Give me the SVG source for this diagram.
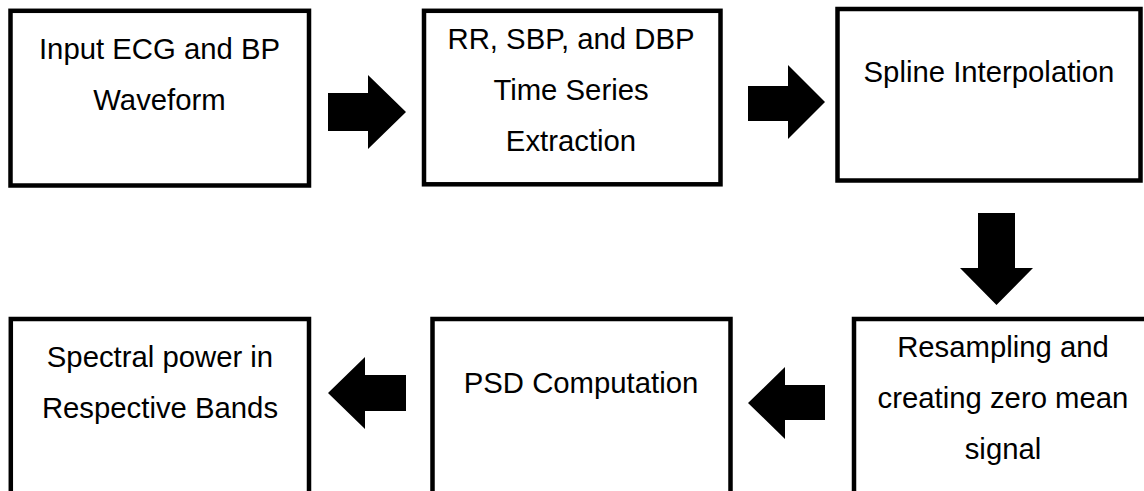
<svg xmlns="http://www.w3.org/2000/svg" width="1144" height="491" viewBox="0 0 1144 491">
<style>
.box{fill:#fff;stroke:#000;stroke-width:4.5}
.t{font-family:"Liberation Sans",Arial,sans-serif;font-size:29.3px;fill:#000;text-anchor:middle}
.arr{fill:#000;stroke:none}
</style>
<rect width="1144" height="491" fill="#fff"/>
<g id="node-input">
<rect class="box" x="10.5" y="10.8" width="298.5" height="174.7"/>
<text class="t" x="159.5" y="58.5">Input ECG and BP</text>
<text class="t" x="159.5" y="110">Waveform</text>
</g>
<g id="node-extraction">
<rect class="box" x="424" y="10.8" width="296.5" height="173.5"/>
<text class="t" x="571" y="48.5">RR, SBP, and DBP</text>
<text class="t" x="571" y="100">Time Series</text>
<text class="t" x="571" y="150.5">Extraction</text>
</g>
<g id="node-spline">
<rect class="box" x="837.5" y="9" width="303" height="171.5"/>
<text class="t" x="989" y="81.7">Spline Interpolation</text>
</g>
<g id="node-resampling">
<rect class="box" x="854" y="319" width="298" height="176"/>
<text class="t" x="1003" y="356.7">Resampling and</text>
<text class="t" x="1003" y="408.3">creating zero mean</text>
<text class="t" x="1003" y="458.5">signal</text>
</g>
<g id="node-psd">
<rect class="box" x="432.5" y="319" width="298" height="176"/>
<text class="t" x="581" y="392.7">PSD Computation</text>
</g>
<g id="node-spectral">
<rect class="box" x="10.8" y="319" width="298.2" height="176"/>
<text class="t" x="160" y="366.7">Spectral power in</text>
<text class="t" x="160" y="418.3">Respective Bands</text>
</g>
<g id="connectors">
<polygon class="arr" points="328,93 368,93 368,75 406,112 368,149 368,131 328,131"/>
<polygon class="arr" points="748,86 788,86 788,65 825,102 788,139 788,121 748,121"/>
<polygon class="arr" points="978,213 1015,213 1015,268 1033,268 996.5,305 960,268 978,268"/>
<polygon class="arr" points="825,385 785,385 785,367 748,403 785,439 785,420 825,420"/>
<polygon class="arr" points="406,375 365,375 365,357 328,393 365,429 365,411 406,411"/>
</g>
</svg>
